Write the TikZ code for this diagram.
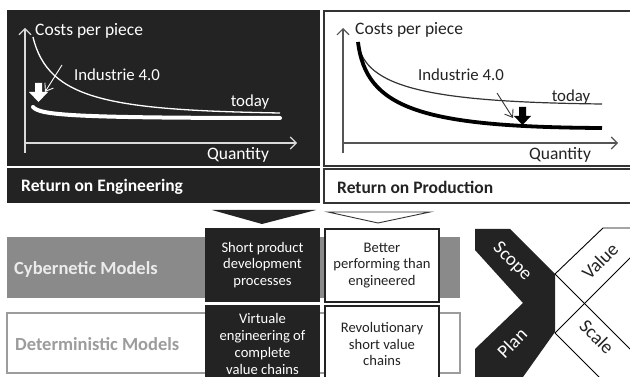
\documentclass[tikz,border=0pt]{standalone}
\usepackage{fontspec}
\setmainfont{Carlito}
\usetikzlibrary{arrows.meta}
\definecolor{dk}{HTML}{232323}
\definecolor{midgray}{HTML}{8A8A8A}
\definecolor{lightgray}{HTML}{9C9C9C}
\definecolor{linegray}{HTML}{333333}
\definecolor{axisgray}{HTML}{555555}
\tikzset{
  panel/.style={anchor=north west, inner sep=0pt, outer sep=0pt},
  axislbl/.style={inner sep=0pt, font=\fontsize{17.5}{20}\selectfont},
  smalllbl/.style={inner sep=0pt, font=\fontsize{16.8}{20}\selectfont},
  headlbl/.style={anchor=west, inner sep=0pt, font=\bfseries\fontsize{17.5}{20}\selectfont},
  modellbl/.style={anchor=west, inner sep=0pt, font=\bfseries\fontsize{18.5}{22}\selectfont},
  boxtext/.style={align=center, inner sep=0pt, font=\fontsize{14.6}{16.7}\selectfont},
  rotlbl/.style={inner sep=0pt, text=white, font=\fontsize{19}{22}\selectfont},
  axisarrow/.style={-{Straight Barb[length=6pt,width=12pt]}},
  pointer/.style={-{Straight Barb[length=7pt,width=10pt]}, line width=0.9pt},
}
\begin{document}
\begin{tikzpicture}[x=1pt,y=-1pt]
\useasboundingbox (0,0) rectangle (630,377);
\fill[white] (0,0) rectangle (630,377);

% ---------- top left panel (Engineering) ----------
\node[panel, fill=dk, minimum width=313pt, minimum height=156pt] (engpanel) at (7,10) {};
\node[panel, fill=dk, minimum width=313pt, minimum height=35pt] (roe) at (7,168) {};
\node[headlbl, text=white] (roetext) at (21,187) {Return on Engineering};

\coordinate (ly0) at (25,153);
\coordinate (lytop) at (25,28);
\coordinate (lx0) at (25,143);
\coordinate (lxend) at (297,143);
\draw[white!85!black, line width=1.1pt, axisarrow] (ly0) -- (lytop);
\draw[white!85!black, line width=1.1pt, axisarrow] (lx0) -- (lxend);
\node[axislbl, text=white, anchor=west] (lcost) at (35,31) {Costs per piece};
\node[axislbl, text=white] (lqty) at (238,155) {Quantity};
\node[smalllbl, text=white] (lind) at (117,75) {Industrie 4.0};
\node[smalllbl, text=white] (ltoday) at (250,102) {today};

\draw[white, line width=1.3pt] (33,37) .. controls (48,100) and (110,110) .. (280,113);
\draw[white, line width=4pt, line cap=round] (33,107) .. controls (40,115) and (70,118) .. (280,118);
\fill[white] (35,83) -- (42,83) -- (42,92) -- (48,92) -- (38.5,102) -- (29,92) -- (35,92) -- cycle;
\coordinate (lpA) at (62,65);
\coordinate (lpB) at (45,92);
\draw[white, pointer] (lpA) -- (lpB);

% ---------- top right panel (Production) ----------
\node[panel, draw=linegray, line width=1.6pt, fill=white, minimum width=310pt, minimum height=155pt] (prodpanel) at (324,11) {};
\node[panel, draw=linegray, line width=1.6pt, fill=white, minimum width=310pt, minimum height=34pt] (rop) at (324,169) {};
\node[headlbl, text=dk] (roptext) at (337,187) {Return on Production};

\coordinate (ry0) at (343,153);
\coordinate (rytop) at (343,28);
\coordinate (rx0) at (343,143);
\coordinate (rxend) at (618,143);
\draw[axisgray, line width=1.1pt, axisarrow] (ry0) -- (rytop);
\draw[axisgray, line width=1.1pt, axisarrow] (rx0) -- (rxend);
\node[axislbl, text=dk, anchor=west] (rcost) at (355,30) {Costs per piece};
\node[axislbl, text=dk] (rqty) at (560,155) {Quantity};
\node[smalllbl, text=dk] (rind) at (461,75) {Industrie 4.0};
\node[smalllbl, text=dk] (rtoday) at (571,97) {today};

\draw[linegray, line width=1.2pt] (358,42) .. controls (364,88) and (430,102) .. (602,104);
\draw[black, line width=3.8pt] (358,42) .. controls (366,108) and (420,127) .. (602,128);
\fill[black] (519,107) -- (526,107) -- (526,116) -- (531,116) -- (522.5,125) -- (514,116) -- (519,116) -- cycle;
\coordinate (rpA) at (497,93);
\coordinate (rpB) at (513,118);
\draw[linegray, pointer] (rpA) -- (rpB);

% ---------- chevrons under the panels ----------
\fill[dk] (212,210) -- (316,210) -- (262,224) -- cycle;
\draw[linegray, line width=0.9pt, fill=white] (328,212) -- (430,212) -- (378,223) -- cycle;

% ---------- model bands ----------
\node[panel, fill=midgray, minimum width=453pt, minimum height=61pt] (cyber) at (7,237) {};
\node[modellbl, text=white!92!black] (cybertext) at (14,269) {Cybernetic Models};
\node[panel, draw=lightgray, line width=1.5pt, fill=white, minimum width=453pt, minimum height=60pt] (determ) at (7,313) {};
\node[modellbl, text=lightgray] (determtext) at (15,344) {Deterministic Models};

% ---------- boxes ----------
\node[panel, fill=dk, minimum width=115pt, minimum height=74pt] (b1) at (205,228) {};
\node[boxtext, text=white] (b1t) at (b1.center) {Short product\\development\\processes};
\node[panel, fill=dk, minimum width=115pt, minimum height=80pt] (b2) at (205,305) {};
\node[boxtext, text=white] (b2t) at (262.5,344) {Virtuale\\engineering of\\complete\\value chains};
\node[panel, draw=dk, line width=1.6pt, fill=white, minimum width=114pt, minimum height=73pt] (b3) at (325,229) {};
\node[boxtext, text=dk] (b3t) at (b3.center) {Better\\performing than\\engineered};
\node[panel, draw=dk, line width=1.6pt, fill=white, minimum width=114pt, minimum height=80pt] (b4) at (325,306) {};
\node[boxtext, text=dk] (b4t) at (382,344) {Revolutionary\\short value\\chains};

% ---------- X diagram ----------
\fill[dk] (475,229) -- (510,229) -- (555,274) -- (555,332) -- (523,377) -- (475,377)
  -- (475,349) -- (523,303) -- (475,250) -- cycle;
\coordinate (xa) at (555,274);
\coordinate (xb) at (555,333);
\draw[black, line width=0.9pt] (xa) -- (603,228) -- (632,228);
\draw[black, line width=0.9pt] (xa) -- (632,351);
\draw[black, line width=0.9pt] (xb) -- (632,256);
\draw[black, line width=0.9pt] (xb) -- (600,378);
\node[rotlbl, rotate=-45] (scope) at (512,262) {Scope};
\node[rotlbl, rotate=45] (plan) at (512,343) {Plan};
\node[rotlbl, text=dk, rotate=45] (value) at (600,261) {Value};
\node[rotlbl, text=dk, rotate=-45] (scale) at (597,337) {Scale};
\end{tikzpicture}
\end{document}
